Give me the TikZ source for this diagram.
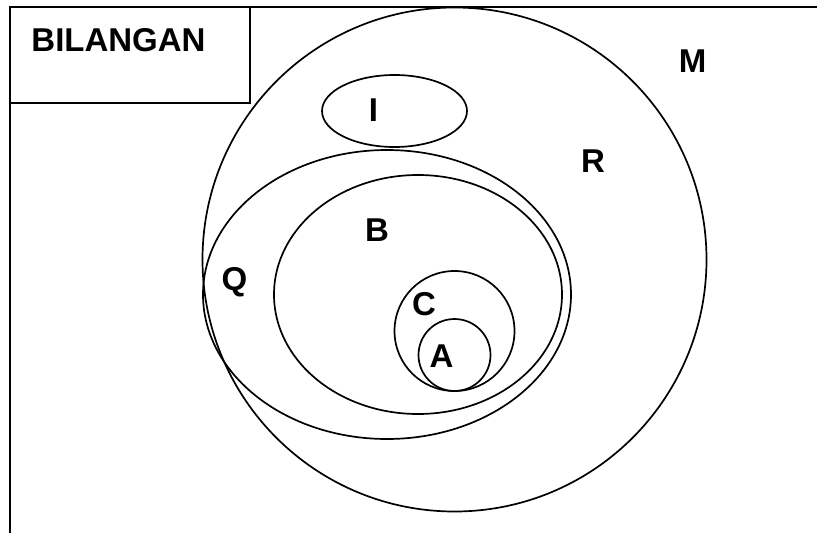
\documentclass[tikz,border=0pt]{standalone}
\usepackage{fontspec}
\setmainfont{Liberation Sans}
\begin{document}
\begin{tikzpicture}[x=1pt,y=-1pt,
  setline/.style={line width=1.7pt},
  lbl/.style={font=\fontsize{33}{33}\selectfont\bfseries,inner sep=0pt,text depth=0pt}]
  \useasboundingbox (0,0) rectangle (817,533);
  % frame and title box
  \draw[setline] (10,533) -- (10,7) -- (817,7);
  \draw[setline] (10,7) rectangle (250,103);
  % sets
  \draw[setline] (454.5,259.5) circle (252);
  \draw[setline] (394.5,111) ellipse (72.5 and 36);
  \draw[setline] (387,294.5) ellipse (184 and 144.5);
  \draw[setline] (418,294.5) ellipse (144 and 119.5);
  \draw[setline] (454.5,331) circle (60);
  \draw[setline] (454.5,355) circle (36);
  % labels
  \foreach \nm/\txt/\px/\py in {title/BILANGAN/118.5/40, m/M/692.5/61.5, i/I/373.5/110.5,
      r/R/593/161, b/B/377/230.5, q/Q/234.5/278.5, c/C/424/303.5, a/A/441.5/356}{
    \node[lbl] (\nm) at (\px,\py) {\txt};}
\end{tikzpicture}
\end{document}
